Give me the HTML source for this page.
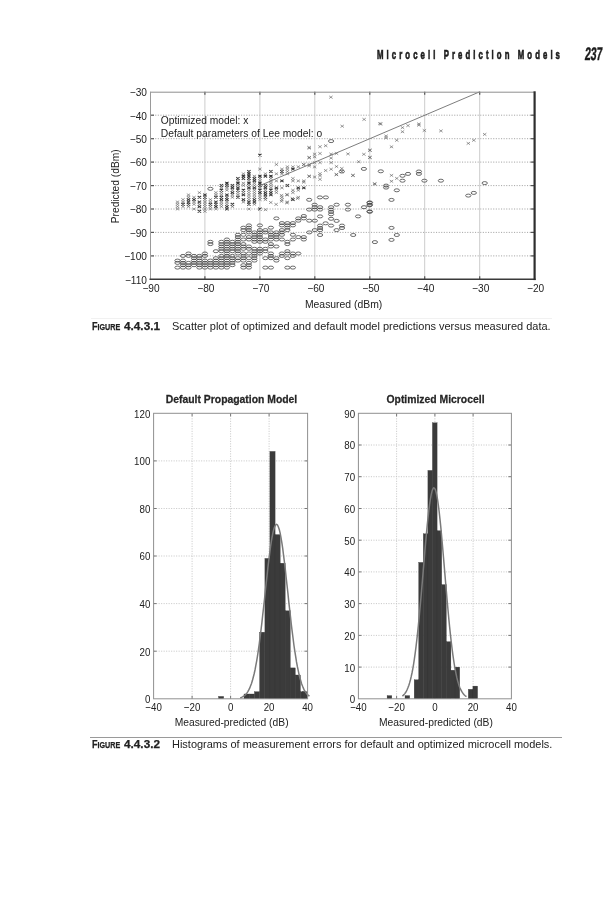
<!DOCTYPE html>
<html lang="en">
<head>
<meta charset="utf-8">
<title>Microcell Prediction Models</title>
<style>
html,body{margin:0;padding:0;background:#fff;}
body{width:613px;height:900px;position:relative;overflow:hidden;font-family:"Liberation Sans",sans-serif;color:#222;}
.hdr{position:absolute;left:377.4px;top:46.7px;font-weight:700;font-size:13.4px;line-height:16px;white-space:nowrap;letter-spacing:5.32px;transform-origin:0 0;transform:scaleX(0.58);color:#1c1c1c;-webkit-text-stroke:0.7px #1c1c1c;}
.pg{position:absolute;left:586.4px;top:43.4px;font-weight:700;font-size:18.1px;line-height:22px;white-space:nowrap;transform-origin:0 0;transform:scaleX(0.58) skewX(-9deg);color:#1c1c1c;letter-spacing:0;-webkit-text-stroke:0.45px #1c1c1c;}
.cap{position:absolute;left:0;width:613px;height:14px;font-size:11.6px;line-height:14px;color:#222;}
.cap b{-webkit-text-stroke:0.25px #222;}
.cap b,.cap span.t{position:absolute;top:0;white-space:nowrap;transform-origin:0 0;}
.cap b{left:91.5px;font-weight:700;transform:scaleX(0.78);}
.cap b.n{left:123.6px;transform:scaleX(1.015);}
.cap span.t{left:171.7px;transform:scaleX(0.946);}
.cap .sc{font-size:9.2px;}
.rule{position:absolute;height:1px;}
svg.plot text{font-family:"Liberation Sans",sans-serif;fill:#222;}
svg.plot .tk{font-size:10.4px;}
svg.plot .hk{font-size:11.2px;}
svg.plot .hl{font-size:10.8px;}
svg.plot .tt{font-size:11px;font-weight:700;fill:#262626;stroke:#262626;stroke-width:0.25px;}
</style>
</head>
<body>
<div class="hdr">Microcell Prediction Models</div>
<div class="pg">237</div>
<svg class="plot" width="613" height="240" viewBox="0 80 613 240" style="position:absolute;left:0;top:80px">
<g stroke="#9c9c9c" stroke-width="0.9" stroke-dasharray="1.1 1.5" fill="none">
<line x1="150.0" y1="115.2" x2="534.6" y2="115.2"/>
<line x1="150.0" y1="138.7" x2="534.6" y2="138.7"/>
<line x1="150.0" y1="162.1" x2="534.6" y2="162.1"/>
<line x1="150.0" y1="185.6" x2="534.6" y2="185.6"/>
<line x1="150.0" y1="209.0" x2="534.6" y2="209.0"/>
<line x1="150.0" y1="232.4" x2="534.6" y2="232.4"/>
<line x1="150.0" y1="255.9" x2="534.6" y2="255.9"/>
</g>
<g stroke="#c6c6c6" stroke-width="0.9" fill="none">
<line x1="204.9" y1="91.8" x2="204.9" y2="279.3"/>
<line x1="259.9" y1="91.8" x2="259.9" y2="279.3"/>
<line x1="314.8" y1="91.8" x2="314.8" y2="279.3"/>
<line x1="369.8" y1="91.8" x2="369.8" y2="279.3"/>
<line x1="424.7" y1="91.8" x2="424.7" y2="279.3"/>
<line x1="479.7" y1="91.8" x2="479.7" y2="279.3"/>
</g>
<g stroke="#555" stroke-width="1.2">
<line x1="150.0" y1="115.2" x2="154.0" y2="115.2"/>
<line x1="530.6" y1="115.2" x2="534.6" y2="115.2"/>
<line x1="150.0" y1="138.7" x2="154.0" y2="138.7"/>
<line x1="530.6" y1="138.7" x2="534.6" y2="138.7"/>
<line x1="150.0" y1="162.1" x2="154.0" y2="162.1"/>
<line x1="530.6" y1="162.1" x2="534.6" y2="162.1"/>
<line x1="150.0" y1="185.6" x2="154.0" y2="185.6"/>
<line x1="530.6" y1="185.6" x2="534.6" y2="185.6"/>
<line x1="150.0" y1="209.0" x2="154.0" y2="209.0"/>
<line x1="530.6" y1="209.0" x2="534.6" y2="209.0"/>
<line x1="150.0" y1="232.4" x2="154.0" y2="232.4"/>
<line x1="530.6" y1="232.4" x2="534.6" y2="232.4"/>
<line x1="150.0" y1="255.9" x2="154.0" y2="255.9"/>
<line x1="530.6" y1="255.9" x2="534.6" y2="255.9"/>
<line x1="204.9" y1="91.8" x2="204.9" y2="94.8"/>
<line x1="204.9" y1="276.3" x2="204.9" y2="279.3"/>
<line x1="259.9" y1="91.8" x2="259.9" y2="94.8"/>
<line x1="259.9" y1="276.3" x2="259.9" y2="279.3"/>
<line x1="314.8" y1="91.8" x2="314.8" y2="94.8"/>
<line x1="314.8" y1="276.3" x2="314.8" y2="279.3"/>
<line x1="369.8" y1="91.8" x2="369.8" y2="94.8"/>
<line x1="369.8" y1="276.3" x2="369.8" y2="279.3"/>
<line x1="424.7" y1="91.8" x2="424.7" y2="94.8"/>
<line x1="424.7" y1="276.3" x2="424.7" y2="279.3"/>
<line x1="479.7" y1="91.8" x2="479.7" y2="94.8"/>
<line x1="479.7" y1="276.3" x2="479.7" y2="279.3"/>
</g>
<path d="M175.8 200.7l3.4 2.6m0 -2.6l-3.4 2.6M175.8 203.0l3.4 2.6m0 -2.6l-3.4 2.6M175.8 205.3l3.4 2.6m0 -2.6l-3.4 2.6M175.8 207.7l3.4 2.6m0 -2.6l-3.4 2.6M181.3 198.3l3.4 2.6m0 -2.6l-3.4 2.6M181.3 200.7l3.4 2.6m0 -2.6l-3.4 2.6M181.3 205.3l3.4 2.6m0 -2.6l-3.4 2.6M186.8 193.6l3.4 2.6m0 -2.6l-3.4 2.6M186.8 196.0l3.4 2.6m0 -2.6l-3.4 2.6M186.8 205.3l3.4 2.6m0 -2.6l-3.4 2.6M192.3 196.0l3.4 2.6m0 -2.6l-3.4 2.6M192.3 200.7l3.4 2.6m0 -2.6l-3.4 2.6M192.3 203.0l3.4 2.6m0 -2.6l-3.4 2.6M192.3 207.7l3.4 2.6m0 -2.6l-3.4 2.6M197.7 191.3l3.4 2.6m0 -2.6l-3.4 2.6M197.7 203.0l3.4 2.6m0 -2.6l-3.4 2.6M203.2 198.3l3.4 2.6m0 -2.6l-3.4 2.6M203.2 200.7l3.4 2.6m0 -2.6l-3.4 2.6M203.2 203.0l3.4 2.6m0 -2.6l-3.4 2.6M203.2 205.3l3.4 2.6m0 -2.6l-3.4 2.6M203.2 207.7l3.4 2.6m0 -2.6l-3.4 2.6M203.2 210.0l3.4 2.6m0 -2.6l-3.4 2.6M208.7 198.3l3.4 2.6m0 -2.6l-3.4 2.6M208.7 200.7l3.4 2.6m0 -2.6l-3.4 2.6M208.7 205.3l3.4 2.6m0 -2.6l-3.4 2.6M208.7 207.7l3.4 2.6m0 -2.6l-3.4 2.6M214.2 191.3l3.4 2.6m0 -2.6l-3.4 2.6M214.2 193.6l3.4 2.6m0 -2.6l-3.4 2.6M214.2 207.7l3.4 2.6m0 -2.6l-3.4 2.6M219.7 186.6l3.4 2.6m0 -2.6l-3.4 2.6M219.7 191.3l3.4 2.6m0 -2.6l-3.4 2.6M219.7 193.6l3.4 2.6m0 -2.6l-3.4 2.6M219.7 200.7l3.4 2.6m0 -2.6l-3.4 2.6M219.7 203.0l3.4 2.6m0 -2.6l-3.4 2.6M219.7 205.3l3.4 2.6m0 -2.6l-3.4 2.6M225.2 186.6l3.4 2.6m0 -2.6l-3.4 2.6M225.2 188.9l3.4 2.6m0 -2.6l-3.4 2.6M225.2 200.7l3.4 2.6m0 -2.6l-3.4 2.6M225.2 203.0l3.4 2.6m0 -2.6l-3.4 2.6M230.7 188.9l3.4 2.6m0 -2.6l-3.4 2.6M230.7 193.6l3.4 2.6m0 -2.6l-3.4 2.6M230.7 196.0l3.4 2.6m0 -2.6l-3.4 2.6M230.7 205.3l3.4 2.6m0 -2.6l-3.4 2.6M236.2 179.6l3.4 2.6m0 -2.6l-3.4 2.6M236.2 184.2l3.4 2.6m0 -2.6l-3.4 2.6M236.2 191.3l3.4 2.6m0 -2.6l-3.4 2.6M236.2 193.6l3.4 2.6m0 -2.6l-3.4 2.6M241.7 172.5l3.4 2.6m0 -2.6l-3.4 2.6M241.7 181.9l3.4 2.6m0 -2.6l-3.4 2.6M241.7 184.2l3.4 2.6m0 -2.6l-3.4 2.6M241.7 191.3l3.4 2.6m0 -2.6l-3.4 2.6M241.7 200.7l3.4 2.6m0 -2.6l-3.4 2.6M247.2 179.6l3.4 2.6m0 -2.6l-3.4 2.6M247.2 184.2l3.4 2.6m0 -2.6l-3.4 2.6M247.2 188.9l3.4 2.6m0 -2.6l-3.4 2.6M247.2 191.3l3.4 2.6m0 -2.6l-3.4 2.6M247.2 193.6l3.4 2.6m0 -2.6l-3.4 2.6M247.2 196.0l3.4 2.6m0 -2.6l-3.4 2.6M247.2 198.3l3.4 2.6m0 -2.6l-3.4 2.6M247.2 207.7l3.4 2.6m0 -2.6l-3.4 2.6M252.7 174.9l3.4 2.6m0 -2.6l-3.4 2.6M252.7 181.9l3.4 2.6m0 -2.6l-3.4 2.6M252.7 184.2l3.4 2.6m0 -2.6l-3.4 2.6M252.7 188.9l3.4 2.6m0 -2.6l-3.4 2.6M252.7 191.3l3.4 2.6m0 -2.6l-3.4 2.6M252.7 193.6l3.4 2.6m0 -2.6l-3.4 2.6M252.7 196.0l3.4 2.6m0 -2.6l-3.4 2.6M252.7 203.0l3.4 2.6m0 -2.6l-3.4 2.6M258.2 167.8l3.4 2.6m0 -2.6l-3.4 2.6M258.2 177.2l3.4 2.6m0 -2.6l-3.4 2.6M258.2 179.6l3.4 2.6m0 -2.6l-3.4 2.6M258.2 186.6l3.4 2.6m0 -2.6l-3.4 2.6M258.2 193.6l3.4 2.6m0 -2.6l-3.4 2.6M258.2 196.0l3.4 2.6m0 -2.6l-3.4 2.6M258.2 198.3l3.4 2.6m0 -2.6l-3.4 2.6M263.7 172.5l3.4 2.6m0 -2.6l-3.4 2.6M263.7 188.9l3.4 2.6m0 -2.6l-3.4 2.6M263.7 198.3l3.4 2.6m0 -2.6l-3.4 2.6M269.2 177.2l3.4 2.6m0 -2.6l-3.4 2.6M269.2 179.6l3.4 2.6m0 -2.6l-3.4 2.6M269.2 181.9l3.4 2.6m0 -2.6l-3.4 2.6M269.2 184.2l3.4 2.6m0 -2.6l-3.4 2.6M269.2 186.6l3.4 2.6m0 -2.6l-3.4 2.6M274.7 163.2l3.4 2.6m0 -2.6l-3.4 2.6M274.7 172.5l3.4 2.6m0 -2.6l-3.4 2.6M274.7 179.6l3.4 2.6m0 -2.6l-3.4 2.6M274.7 188.9l3.4 2.6m0 -2.6l-3.4 2.6M274.7 191.3l3.4 2.6m0 -2.6l-3.4 2.6M280.2 167.8l3.4 2.6m0 -2.6l-3.4 2.6M280.2 172.5l3.4 2.6m0 -2.6l-3.4 2.6M280.2 186.6l3.4 2.6m0 -2.6l-3.4 2.6M280.2 196.0l3.4 2.6m0 -2.6l-3.4 2.6M280.2 198.3l3.4 2.6m0 -2.6l-3.4 2.6M285.7 165.5l3.4 2.6m0 -2.6l-3.4 2.6M285.7 167.8l3.4 2.6m0 -2.6l-3.4 2.6M285.7 170.2l3.4 2.6m0 -2.6l-3.4 2.6M285.7 172.5l3.4 2.6m0 -2.6l-3.4 2.6M285.7 193.6l3.4 2.6m0 -2.6l-3.4 2.6M285.7 200.7l3.4 2.6m0 -2.6l-3.4 2.6M291.2 165.5l3.4 2.6m0 -2.6l-3.4 2.6M291.2 177.2l3.4 2.6m0 -2.6l-3.4 2.6M291.2 179.6l3.4 2.6m0 -2.6l-3.4 2.6M291.2 188.9l3.4 2.6m0 -2.6l-3.4 2.6M291.2 191.3l3.4 2.6m0 -2.6l-3.4 2.6M296.6 165.5l3.4 2.6m0 -2.6l-3.4 2.6M296.6 179.6l3.4 2.6m0 -2.6l-3.4 2.6M296.6 188.9l3.4 2.6m0 -2.6l-3.4 2.6M296.6 196.0l3.4 2.6m0 -2.6l-3.4 2.6M302.1 163.2l3.4 2.6m0 -2.6l-3.4 2.6M302.1 179.6l3.4 2.6m0 -2.6l-3.4 2.6M307.6 146.8l3.4 2.6m0 -2.6l-3.4 2.6M307.6 156.1l3.4 2.6m0 -2.6l-3.4 2.6M307.6 163.2l3.4 2.6m0 -2.6l-3.4 2.6M307.6 174.9l3.4 2.6m0 -2.6l-3.4 2.6M307.4 146.1l3.4 2.6m0 -2.6l-3.4 2.6M318.3 145.4l3.4 2.6m0 -2.6l-3.4 2.6M324.0 144.4l3.4 2.6m0 -2.6l-3.4 2.6M312.9 152.8l3.4 2.6m0 -2.6l-3.4 2.6M312.9 155.5l3.4 2.6m0 -2.6l-3.4 2.6M318.3 152.2l3.4 2.6m0 -2.6l-3.4 2.6M307.4 156.5l3.4 2.6m0 -2.6l-3.4 2.6M329.4 152.8l3.4 2.6m0 -2.6l-3.4 2.6M334.8 152.2l3.4 2.6m0 -2.6l-3.4 2.6M329.4 156.8l3.4 2.6m0 -2.6l-3.4 2.6M329.4 161.3l3.4 2.6m0 -2.6l-3.4 2.6M346.3 152.6l3.4 2.6m0 -2.6l-3.4 2.6M362.2 153.0l3.4 2.6m0 -2.6l-3.4 2.6M368.1 148.9l3.4 2.6m0 -2.6l-3.4 2.6M368.1 156.1l3.4 2.6m0 -2.6l-3.4 2.6M357.0 160.4l3.4 2.6m0 -2.6l-3.4 2.6M302.0 163.3l3.4 2.6m0 -2.6l-3.4 2.6M307.4 164.6l3.4 2.6m0 -2.6l-3.4 2.6M312.9 161.3l3.4 2.6m0 -2.6l-3.4 2.6M312.9 165.6l3.4 2.6m0 -2.6l-3.4 2.6M318.3 161.3l3.4 2.6m0 -2.6l-3.4 2.6M334.8 165.2l3.4 2.6m0 -2.6l-3.4 2.6M329.4 167.9l3.4 2.6m0 -2.6l-3.4 2.6M324.0 169.2l3.4 2.6m0 -2.6l-3.4 2.6M340.1 167.2l3.4 2.6m0 -2.6l-3.4 2.6M340.1 170.2l3.4 2.6m0 -2.6l-3.4 2.6M334.8 173.3l3.4 2.6m0 -2.6l-3.4 2.6M318.3 172.4l3.4 2.6m0 -2.6l-3.4 2.6M318.3 174.4l3.4 2.6m0 -2.6l-3.4 2.6M318.3 178.0l3.4 2.6m0 -2.6l-3.4 2.6M307.4 175.0l3.4 2.6m0 -2.6l-3.4 2.6M312.9 175.7l3.4 2.6m0 -2.6l-3.4 2.6M351.2 174.1l3.4 2.6m0 -2.6l-3.4 2.6M302.0 180.9l3.4 2.6m0 -2.6l-3.4 2.6M379.1 122.6l3.4 2.6m0 -2.6l-3.4 2.6M384.4 134.7l3.4 2.6m0 -2.6l-3.4 2.6M384.4 136.7l3.4 2.6m0 -2.6l-3.4 2.6M389.8 145.5l3.4 2.6m0 -2.6l-3.4 2.6M395.1 139.0l3.4 2.6m0 -2.6l-3.4 2.6M400.8 126.3l3.4 2.6m0 -2.6l-3.4 2.6M400.8 130.4l3.4 2.6m0 -2.6l-3.4 2.6M406.3 124.3l3.4 2.6m0 -2.6l-3.4 2.6M417.2 122.6l3.4 2.6m0 -2.6l-3.4 2.6M417.2 123.9l3.4 2.6m0 -2.6l-3.4 2.6M422.7 129.2l3.4 2.6m0 -2.6l-3.4 2.6M439.2 129.6l3.4 2.6m0 -2.6l-3.4 2.6M466.6 142.1l3.4 2.6m0 -2.6l-3.4 2.6M472.1 139.0l3.4 2.6m0 -2.6l-3.4 2.6M483.0 133.1l3.4 2.6m0 -2.6l-3.4 2.6M368.3 149.0l3.4 2.6m0 -2.6l-3.4 2.6M368.3 156.2l3.4 2.6m0 -2.6l-3.4 2.6M389.8 174.1l3.4 2.6m0 -2.6l-3.4 2.6M395.1 177.1l3.4 2.6m0 -2.6l-3.4 2.6M389.8 180.0l3.4 2.6m0 -2.6l-3.4 2.6M373.2 182.6l3.4 2.6m0 -2.6l-3.4 2.6M329.2 95.9l3.4 2.6m0 -2.6l-3.4 2.6M362.4 118.1l3.4 2.6m0 -2.6l-3.4 2.6M340.5 124.9l3.4 2.6m0 -2.6l-3.4 2.6M378.1 122.4l3.4 2.6m0 -2.6l-3.4 2.6M372.8 182.6l3.4 2.6m0 -2.6l-3.4 2.6M351.3 174.1l3.4 2.6m0 -2.6l-3.4 2.6M334.6 173.2l3.4 2.6m0 -2.6l-3.4 2.6M290.6 197.2l3.4 2.6m0 -2.6l-3.4 2.6M295.9 197.2l3.4 2.6m0 -2.6l-3.4 2.6M279.8 194.1l3.4 2.6m0 -2.6l-3.4 2.6M285.1 193.3l3.4 2.6m0 -2.6l-3.4 2.6M285.1 201.6l3.4 2.6m0 -2.6l-3.4 2.6M274.4 203.1l3.4 2.6m0 -2.6l-3.4 2.6M269.1 201.2l3.4 2.6m0 -2.6l-3.4 2.6M279.8 200.0l3.4 2.6m0 -2.6l-3.4 2.6M263.8 208.4l3.4 2.6m0 -2.6l-3.4 2.6" stroke="#666" stroke-width="0.65" fill="none"/>
<path d="M181.3 203.0l3.4 2.6m0 -2.6l-3.4 2.6M186.8 198.3l3.4 2.6m0 -2.6l-3.4 2.6M186.8 200.7l3.4 2.6m0 -2.6l-3.4 2.6M186.8 203.0l3.4 2.6m0 -2.6l-3.4 2.6M192.3 198.3l3.4 2.6m0 -2.6l-3.4 2.6M197.7 196.0l3.4 2.6m0 -2.6l-3.4 2.6M197.7 200.7l3.4 2.6m0 -2.6l-3.4 2.6M197.7 205.3l3.4 2.6m0 -2.6l-3.4 2.6M197.7 210.0l3.4 2.6m0 -2.6l-3.4 2.6M203.2 193.6l3.4 2.6m0 -2.6l-3.4 2.6M203.2 196.0l3.4 2.6m0 -2.6l-3.4 2.6M208.7 203.0l3.4 2.6m0 -2.6l-3.4 2.6M214.2 196.0l3.4 2.6m0 -2.6l-3.4 2.6M214.2 200.7l3.4 2.6m0 -2.6l-3.4 2.6M214.2 203.0l3.4 2.6m0 -2.6l-3.4 2.6M214.2 205.3l3.4 2.6m0 -2.6l-3.4 2.6M219.7 184.2l3.4 2.6m0 -2.6l-3.4 2.6M219.7 188.9l3.4 2.6m0 -2.6l-3.4 2.6M219.7 196.0l3.4 2.6m0 -2.6l-3.4 2.6M219.7 198.3l3.4 2.6m0 -2.6l-3.4 2.6M225.2 181.9l3.4 2.6m0 -2.6l-3.4 2.6M225.2 184.2l3.4 2.6m0 -2.6l-3.4 2.6M225.2 193.6l3.4 2.6m0 -2.6l-3.4 2.6M225.2 196.0l3.4 2.6m0 -2.6l-3.4 2.6M225.2 198.3l3.4 2.6m0 -2.6l-3.4 2.6M225.2 205.3l3.4 2.6m0 -2.6l-3.4 2.6M225.2 207.7l3.4 2.6m0 -2.6l-3.4 2.6M230.7 184.2l3.4 2.6m0 -2.6l-3.4 2.6M230.7 186.6l3.4 2.6m0 -2.6l-3.4 2.6M230.7 191.3l3.4 2.6m0 -2.6l-3.4 2.6M230.7 203.0l3.4 2.6m0 -2.6l-3.4 2.6M236.2 177.2l3.4 2.6m0 -2.6l-3.4 2.6M236.2 181.9l3.4 2.6m0 -2.6l-3.4 2.6M236.2 186.6l3.4 2.6m0 -2.6l-3.4 2.6M236.2 188.9l3.4 2.6m0 -2.6l-3.4 2.6M236.2 196.0l3.4 2.6m0 -2.6l-3.4 2.6M241.7 174.9l3.4 2.6m0 -2.6l-3.4 2.6M241.7 177.2l3.4 2.6m0 -2.6l-3.4 2.6M241.7 188.9l3.4 2.6m0 -2.6l-3.4 2.6M241.7 193.6l3.4 2.6m0 -2.6l-3.4 2.6M241.7 198.3l3.4 2.6m0 -2.6l-3.4 2.6M247.2 170.2l3.4 2.6m0 -2.6l-3.4 2.6M247.2 172.5l3.4 2.6m0 -2.6l-3.4 2.6M247.2 174.9l3.4 2.6m0 -2.6l-3.4 2.6M247.2 177.2l3.4 2.6m0 -2.6l-3.4 2.6M247.2 181.9l3.4 2.6m0 -2.6l-3.4 2.6M247.2 186.6l3.4 2.6m0 -2.6l-3.4 2.6M247.2 200.7l3.4 2.6m0 -2.6l-3.4 2.6M247.2 203.0l3.4 2.6m0 -2.6l-3.4 2.6M252.7 177.2l3.4 2.6m0 -2.6l-3.4 2.6M252.7 179.6l3.4 2.6m0 -2.6l-3.4 2.6M252.7 186.6l3.4 2.6m0 -2.6l-3.4 2.6M252.7 198.3l3.4 2.6m0 -2.6l-3.4 2.6M252.7 200.7l3.4 2.6m0 -2.6l-3.4 2.6M258.2 153.8l3.4 2.6m0 -2.6l-3.4 2.6M258.2 174.9l3.4 2.6m0 -2.6l-3.4 2.6M258.2 181.9l3.4 2.6m0 -2.6l-3.4 2.6M258.2 184.2l3.4 2.6m0 -2.6l-3.4 2.6M258.2 188.9l3.4 2.6m0 -2.6l-3.4 2.6M258.2 191.3l3.4 2.6m0 -2.6l-3.4 2.6M258.2 207.7l3.4 2.6m0 -2.6l-3.4 2.6M263.7 174.9l3.4 2.6m0 -2.6l-3.4 2.6M263.7 184.2l3.4 2.6m0 -2.6l-3.4 2.6M263.7 186.6l3.4 2.6m0 -2.6l-3.4 2.6M263.7 191.3l3.4 2.6m0 -2.6l-3.4 2.6M263.7 193.6l3.4 2.6m0 -2.6l-3.4 2.6M263.7 196.0l3.4 2.6m0 -2.6l-3.4 2.6M269.2 170.2l3.4 2.6m0 -2.6l-3.4 2.6M269.2 174.9l3.4 2.6m0 -2.6l-3.4 2.6M269.2 188.9l3.4 2.6m0 -2.6l-3.4 2.6M269.2 191.3l3.4 2.6m0 -2.6l-3.4 2.6M269.2 193.6l3.4 2.6m0 -2.6l-3.4 2.6M274.7 186.6l3.4 2.6m0 -2.6l-3.4 2.6M280.2 170.2l3.4 2.6m0 -2.6l-3.4 2.6M280.2 179.6l3.4 2.6m0 -2.6l-3.4 2.6M285.7 184.2l3.4 2.6m0 -2.6l-3.4 2.6M291.2 167.8l3.4 2.6m0 -2.6l-3.4 2.6M291.2 198.3l3.4 2.6m0 -2.6l-3.4 2.6M296.6 186.6l3.4 2.6m0 -2.6l-3.4 2.6M302.1 186.6l3.4 2.6m0 -2.6l-3.4 2.6" stroke="#3a3a3a" stroke-width="1.05" fill="none"/>
<g stroke="#444" stroke-width="0.8" fill="none">
<ellipse cx="177.5" cy="267.6" rx="2.65" ry="1.5"/>
<ellipse cx="177.5" cy="262.9" rx="2.65" ry="1.5"/>
<ellipse cx="177.5" cy="260.6" rx="2.65" ry="1.5"/>
<ellipse cx="183.0" cy="267.6" rx="2.65" ry="1.5"/>
<ellipse cx="183.0" cy="265.2" rx="2.65" ry="1.5"/>
<ellipse cx="183.0" cy="262.9" rx="2.65" ry="1.5"/>
<ellipse cx="183.0" cy="260.6" rx="2.65" ry="1.5"/>
<ellipse cx="183.0" cy="255.9" rx="2.65" ry="1.5"/>
<ellipse cx="188.5" cy="267.6" rx="2.65" ry="1.5"/>
<ellipse cx="188.5" cy="265.2" rx="2.65" ry="1.5"/>
<ellipse cx="188.5" cy="262.9" rx="2.65" ry="1.5"/>
<ellipse cx="188.5" cy="255.9" rx="2.65" ry="1.5"/>
<ellipse cx="188.5" cy="253.5" rx="2.65" ry="1.5"/>
<ellipse cx="194.0" cy="265.2" rx="2.65" ry="1.5"/>
<ellipse cx="194.0" cy="262.9" rx="2.65" ry="1.5"/>
<ellipse cx="194.0" cy="260.6" rx="2.65" ry="1.5"/>
<ellipse cx="194.0" cy="258.2" rx="2.65" ry="1.5"/>
<ellipse cx="194.0" cy="255.9" rx="2.65" ry="1.5"/>
<ellipse cx="199.4" cy="267.6" rx="2.65" ry="1.5"/>
<ellipse cx="199.4" cy="265.2" rx="2.65" ry="1.5"/>
<ellipse cx="199.4" cy="262.9" rx="2.65" ry="1.5"/>
<ellipse cx="199.4" cy="260.6" rx="2.65" ry="1.5"/>
<ellipse cx="199.4" cy="258.2" rx="2.65" ry="1.5"/>
<ellipse cx="199.4" cy="255.9" rx="2.65" ry="1.5"/>
<ellipse cx="204.9" cy="267.6" rx="2.65" ry="1.5"/>
<ellipse cx="204.9" cy="265.2" rx="2.65" ry="1.5"/>
<ellipse cx="204.9" cy="262.9" rx="2.65" ry="1.5"/>
<ellipse cx="204.9" cy="260.6" rx="2.65" ry="1.5"/>
<ellipse cx="204.9" cy="255.9" rx="2.65" ry="1.5"/>
<ellipse cx="204.9" cy="253.5" rx="2.65" ry="1.5"/>
<ellipse cx="210.4" cy="267.6" rx="2.65" ry="1.5"/>
<ellipse cx="210.4" cy="265.2" rx="2.65" ry="1.5"/>
<ellipse cx="210.4" cy="262.9" rx="2.65" ry="1.5"/>
<ellipse cx="210.4" cy="260.6" rx="2.65" ry="1.5"/>
<ellipse cx="210.4" cy="244.1" rx="2.65" ry="1.5"/>
<ellipse cx="210.4" cy="241.8" rx="2.65" ry="1.5"/>
<ellipse cx="215.9" cy="267.6" rx="2.65" ry="1.5"/>
<ellipse cx="215.9" cy="265.2" rx="2.65" ry="1.5"/>
<ellipse cx="215.9" cy="262.9" rx="2.65" ry="1.5"/>
<ellipse cx="215.9" cy="260.6" rx="2.65" ry="1.5"/>
<ellipse cx="215.9" cy="258.2" rx="2.65" ry="1.5"/>
<ellipse cx="215.9" cy="251.2" rx="2.65" ry="1.5"/>
<ellipse cx="221.4" cy="267.6" rx="2.65" ry="1.5"/>
<ellipse cx="221.4" cy="265.2" rx="2.65" ry="1.5"/>
<ellipse cx="221.4" cy="262.9" rx="2.65" ry="1.5"/>
<ellipse cx="221.4" cy="260.6" rx="2.65" ry="1.5"/>
<ellipse cx="221.4" cy="258.2" rx="2.65" ry="1.5"/>
<ellipse cx="221.4" cy="255.9" rx="2.65" ry="1.5"/>
<ellipse cx="221.4" cy="251.2" rx="2.65" ry="1.5"/>
<ellipse cx="221.4" cy="248.8" rx="2.65" ry="1.5"/>
<ellipse cx="221.4" cy="246.5" rx="2.65" ry="1.5"/>
<ellipse cx="221.4" cy="244.1" rx="2.65" ry="1.5"/>
<ellipse cx="221.4" cy="241.8" rx="2.65" ry="1.5"/>
<ellipse cx="226.9" cy="267.6" rx="2.65" ry="1.5"/>
<ellipse cx="226.9" cy="265.2" rx="2.65" ry="1.5"/>
<ellipse cx="226.9" cy="262.9" rx="2.65" ry="1.5"/>
<ellipse cx="226.9" cy="260.6" rx="2.65" ry="1.5"/>
<ellipse cx="226.9" cy="258.2" rx="2.65" ry="1.5"/>
<ellipse cx="226.9" cy="255.9" rx="2.65" ry="1.5"/>
<ellipse cx="226.9" cy="253.5" rx="2.65" ry="1.5"/>
<ellipse cx="226.9" cy="251.2" rx="2.65" ry="1.5"/>
<ellipse cx="226.9" cy="248.8" rx="2.65" ry="1.5"/>
<ellipse cx="226.9" cy="246.5" rx="2.65" ry="1.5"/>
<ellipse cx="226.9" cy="244.1" rx="2.65" ry="1.5"/>
<ellipse cx="226.9" cy="241.8" rx="2.65" ry="1.5"/>
<ellipse cx="226.9" cy="239.5" rx="2.65" ry="1.5"/>
<ellipse cx="232.4" cy="265.2" rx="2.65" ry="1.5"/>
<ellipse cx="232.4" cy="262.9" rx="2.65" ry="1.5"/>
<ellipse cx="232.4" cy="260.6" rx="2.65" ry="1.5"/>
<ellipse cx="232.4" cy="258.2" rx="2.65" ry="1.5"/>
<ellipse cx="232.4" cy="255.9" rx="2.65" ry="1.5"/>
<ellipse cx="232.4" cy="251.2" rx="2.65" ry="1.5"/>
<ellipse cx="232.4" cy="248.8" rx="2.65" ry="1.5"/>
<ellipse cx="232.4" cy="246.5" rx="2.65" ry="1.5"/>
<ellipse cx="232.4" cy="244.1" rx="2.65" ry="1.5"/>
<ellipse cx="232.4" cy="241.8" rx="2.65" ry="1.5"/>
<ellipse cx="237.9" cy="234.8" rx="2.65" ry="1.5"/>
<ellipse cx="237.9" cy="237.1" rx="2.65" ry="1.5"/>
<ellipse cx="237.9" cy="239.5" rx="2.65" ry="1.5"/>
<ellipse cx="237.9" cy="241.8" rx="2.65" ry="1.5"/>
<ellipse cx="237.9" cy="244.1" rx="2.65" ry="1.5"/>
<ellipse cx="237.9" cy="246.5" rx="2.65" ry="1.5"/>
<ellipse cx="237.9" cy="248.8" rx="2.65" ry="1.5"/>
<ellipse cx="237.9" cy="251.2" rx="2.65" ry="1.5"/>
<ellipse cx="237.9" cy="253.5" rx="2.65" ry="1.5"/>
<ellipse cx="237.9" cy="258.2" rx="2.65" ry="1.5"/>
<ellipse cx="237.9" cy="260.6" rx="2.65" ry="1.5"/>
<ellipse cx="243.4" cy="227.7" rx="2.65" ry="1.5"/>
<ellipse cx="243.4" cy="230.1" rx="2.65" ry="1.5"/>
<ellipse cx="243.4" cy="234.8" rx="2.65" ry="1.5"/>
<ellipse cx="243.4" cy="239.5" rx="2.65" ry="1.5"/>
<ellipse cx="243.4" cy="244.1" rx="2.65" ry="1.5"/>
<ellipse cx="243.4" cy="246.5" rx="2.65" ry="1.5"/>
<ellipse cx="243.4" cy="248.8" rx="2.65" ry="1.5"/>
<ellipse cx="243.4" cy="253.5" rx="2.65" ry="1.5"/>
<ellipse cx="243.4" cy="255.9" rx="2.65" ry="1.5"/>
<ellipse cx="243.4" cy="258.2" rx="2.65" ry="1.5"/>
<ellipse cx="243.4" cy="260.6" rx="2.65" ry="1.5"/>
<ellipse cx="243.4" cy="265.2" rx="2.65" ry="1.5"/>
<ellipse cx="243.4" cy="267.6" rx="2.65" ry="1.5"/>
<ellipse cx="248.9" cy="225.4" rx="2.65" ry="1.5"/>
<ellipse cx="248.9" cy="227.7" rx="2.65" ry="1.5"/>
<ellipse cx="248.9" cy="230.1" rx="2.65" ry="1.5"/>
<ellipse cx="248.9" cy="232.4" rx="2.65" ry="1.5"/>
<ellipse cx="248.9" cy="237.1" rx="2.65" ry="1.5"/>
<ellipse cx="248.9" cy="239.5" rx="2.65" ry="1.5"/>
<ellipse cx="248.9" cy="246.5" rx="2.65" ry="1.5"/>
<ellipse cx="248.9" cy="248.8" rx="2.65" ry="1.5"/>
<ellipse cx="248.9" cy="253.5" rx="2.65" ry="1.5"/>
<ellipse cx="248.9" cy="258.2" rx="2.65" ry="1.5"/>
<ellipse cx="248.9" cy="262.9" rx="2.65" ry="1.5"/>
<ellipse cx="248.9" cy="265.2" rx="2.65" ry="1.5"/>
<ellipse cx="248.9" cy="267.6" rx="2.65" ry="1.5"/>
<ellipse cx="254.4" cy="232.4" rx="2.65" ry="1.5"/>
<ellipse cx="254.4" cy="234.8" rx="2.65" ry="1.5"/>
<ellipse cx="254.4" cy="237.1" rx="2.65" ry="1.5"/>
<ellipse cx="254.4" cy="239.5" rx="2.65" ry="1.5"/>
<ellipse cx="254.4" cy="241.8" rx="2.65" ry="1.5"/>
<ellipse cx="254.4" cy="248.8" rx="2.65" ry="1.5"/>
<ellipse cx="254.4" cy="251.2" rx="2.65" ry="1.5"/>
<ellipse cx="254.4" cy="253.5" rx="2.65" ry="1.5"/>
<ellipse cx="254.4" cy="255.9" rx="2.65" ry="1.5"/>
<ellipse cx="254.4" cy="258.2" rx="2.65" ry="1.5"/>
<ellipse cx="254.4" cy="260.6" rx="2.65" ry="1.5"/>
<ellipse cx="259.9" cy="225.4" rx="2.65" ry="1.5"/>
<ellipse cx="259.9" cy="230.1" rx="2.65" ry="1.5"/>
<ellipse cx="259.9" cy="232.4" rx="2.65" ry="1.5"/>
<ellipse cx="259.9" cy="234.8" rx="2.65" ry="1.5"/>
<ellipse cx="259.9" cy="237.1" rx="2.65" ry="1.5"/>
<ellipse cx="259.9" cy="239.5" rx="2.65" ry="1.5"/>
<ellipse cx="259.9" cy="241.8" rx="2.65" ry="1.5"/>
<ellipse cx="259.9" cy="248.8" rx="2.65" ry="1.5"/>
<ellipse cx="259.9" cy="251.2" rx="2.65" ry="1.5"/>
<ellipse cx="259.9" cy="253.5" rx="2.65" ry="1.5"/>
<ellipse cx="265.4" cy="230.1" rx="2.65" ry="1.5"/>
<ellipse cx="265.4" cy="232.4" rx="2.65" ry="1.5"/>
<ellipse cx="265.4" cy="239.5" rx="2.65" ry="1.5"/>
<ellipse cx="265.4" cy="241.8" rx="2.65" ry="1.5"/>
<ellipse cx="265.4" cy="248.8" rx="2.65" ry="1.5"/>
<ellipse cx="265.4" cy="251.2" rx="2.65" ry="1.5"/>
<ellipse cx="265.4" cy="258.2" rx="2.65" ry="1.5"/>
<ellipse cx="265.4" cy="267.6" rx="2.65" ry="1.5"/>
<ellipse cx="270.9" cy="227.7" rx="2.65" ry="1.5"/>
<ellipse cx="270.9" cy="232.4" rx="2.65" ry="1.5"/>
<ellipse cx="270.9" cy="234.8" rx="2.65" ry="1.5"/>
<ellipse cx="270.9" cy="237.1" rx="2.65" ry="1.5"/>
<ellipse cx="270.9" cy="239.5" rx="2.65" ry="1.5"/>
<ellipse cx="270.9" cy="244.1" rx="2.65" ry="1.5"/>
<ellipse cx="270.9" cy="246.5" rx="2.65" ry="1.5"/>
<ellipse cx="270.9" cy="253.5" rx="2.65" ry="1.5"/>
<ellipse cx="270.9" cy="255.9" rx="2.65" ry="1.5"/>
<ellipse cx="270.9" cy="258.2" rx="2.65" ry="1.5"/>
<ellipse cx="270.9" cy="267.6" rx="2.65" ry="1.5"/>
<ellipse cx="276.4" cy="218.4" rx="2.65" ry="1.5"/>
<ellipse cx="276.4" cy="232.4" rx="2.65" ry="1.5"/>
<ellipse cx="276.4" cy="234.8" rx="2.65" ry="1.5"/>
<ellipse cx="276.4" cy="237.1" rx="2.65" ry="1.5"/>
<ellipse cx="276.4" cy="239.5" rx="2.65" ry="1.5"/>
<ellipse cx="276.4" cy="246.5" rx="2.65" ry="1.5"/>
<ellipse cx="276.4" cy="258.2" rx="2.65" ry="1.5"/>
<ellipse cx="276.4" cy="260.6" rx="2.65" ry="1.5"/>
<ellipse cx="281.9" cy="223.1" rx="2.65" ry="1.5"/>
<ellipse cx="281.9" cy="225.4" rx="2.65" ry="1.5"/>
<ellipse cx="281.9" cy="230.1" rx="2.65" ry="1.5"/>
<ellipse cx="281.9" cy="232.4" rx="2.65" ry="1.5"/>
<ellipse cx="281.9" cy="234.8" rx="2.65" ry="1.5"/>
<ellipse cx="281.9" cy="239.5" rx="2.65" ry="1.5"/>
<ellipse cx="281.9" cy="253.5" rx="2.65" ry="1.5"/>
<ellipse cx="281.9" cy="255.9" rx="2.65" ry="1.5"/>
<ellipse cx="287.4" cy="223.1" rx="2.65" ry="1.5"/>
<ellipse cx="287.4" cy="225.4" rx="2.65" ry="1.5"/>
<ellipse cx="287.4" cy="227.7" rx="2.65" ry="1.5"/>
<ellipse cx="287.4" cy="230.1" rx="2.65" ry="1.5"/>
<ellipse cx="287.4" cy="241.8" rx="2.65" ry="1.5"/>
<ellipse cx="287.4" cy="244.1" rx="2.65" ry="1.5"/>
<ellipse cx="287.4" cy="251.2" rx="2.65" ry="1.5"/>
<ellipse cx="287.4" cy="253.5" rx="2.65" ry="1.5"/>
<ellipse cx="287.4" cy="258.2" rx="2.65" ry="1.5"/>
<ellipse cx="287.4" cy="267.6" rx="2.65" ry="1.5"/>
<ellipse cx="292.9" cy="223.1" rx="2.65" ry="1.5"/>
<ellipse cx="292.9" cy="225.4" rx="2.65" ry="1.5"/>
<ellipse cx="292.9" cy="234.8" rx="2.65" ry="1.5"/>
<ellipse cx="292.9" cy="239.5" rx="2.65" ry="1.5"/>
<ellipse cx="292.9" cy="253.5" rx="2.65" ry="1.5"/>
<ellipse cx="292.9" cy="255.9" rx="2.65" ry="1.5"/>
<ellipse cx="292.9" cy="267.6" rx="2.65" ry="1.5"/>
<ellipse cx="298.3" cy="218.4" rx="2.65" ry="1.5"/>
<ellipse cx="298.3" cy="220.7" rx="2.65" ry="1.5"/>
<ellipse cx="298.3" cy="237.1" rx="2.65" ry="1.5"/>
<ellipse cx="298.3" cy="253.5" rx="2.65" ry="1.5"/>
<ellipse cx="303.8" cy="216.0" rx="2.65" ry="1.5"/>
<ellipse cx="303.8" cy="218.4" rx="2.65" ry="1.5"/>
<ellipse cx="303.8" cy="237.1" rx="2.65" ry="1.5"/>
<ellipse cx="303.8" cy="239.5" rx="2.65" ry="1.5"/>
<ellipse cx="309.3" cy="220.7" rx="2.65" ry="1.5"/>
<ellipse cx="309.3" cy="232.4" rx="2.65" ry="1.5"/>
<ellipse cx="314.8" cy="220.7" rx="2.65" ry="1.5"/>
<ellipse cx="314.8" cy="230.1" rx="2.65" ry="1.5"/>
<ellipse cx="309.2" cy="199.8" rx="2.65" ry="1.5"/>
<ellipse cx="319.9" cy="197.4" rx="2.65" ry="1.5"/>
<ellipse cx="325.8" cy="197.4" rx="2.65" ry="1.5"/>
<ellipse cx="314.6" cy="204.7" rx="2.65" ry="1.5"/>
<ellipse cx="314.6" cy="207.2" rx="2.65" ry="1.5"/>
<ellipse cx="314.6" cy="209.6" rx="2.65" ry="1.5"/>
<ellipse cx="309.2" cy="209.6" rx="2.65" ry="1.5"/>
<ellipse cx="320.1" cy="207.2" rx="2.65" ry="1.5"/>
<ellipse cx="320.1" cy="209.6" rx="2.65" ry="1.5"/>
<ellipse cx="331.1" cy="207.2" rx="2.65" ry="1.5"/>
<ellipse cx="331.1" cy="209.6" rx="2.65" ry="1.5"/>
<ellipse cx="331.1" cy="211.9" rx="2.65" ry="1.5"/>
<ellipse cx="331.1" cy="214.3" rx="2.65" ry="1.5"/>
<ellipse cx="336.6" cy="204.7" rx="2.65" ry="1.5"/>
<ellipse cx="347.9" cy="204.7" rx="2.65" ry="1.5"/>
<ellipse cx="347.9" cy="209.6" rx="2.65" ry="1.5"/>
<ellipse cx="364.0" cy="207.2" rx="2.65" ry="1.5"/>
<ellipse cx="369.4" cy="202.7" rx="2.65" ry="1.5"/>
<ellipse cx="369.4" cy="205.3" rx="2.65" ry="1.5"/>
<ellipse cx="369.4" cy="211.5" rx="2.65" ry="1.5"/>
<ellipse cx="358.1" cy="216.4" rx="2.65" ry="1.5"/>
<ellipse cx="320.1" cy="216.4" rx="2.65" ry="1.5"/>
<ellipse cx="331.1" cy="218.8" rx="2.65" ry="1.5"/>
<ellipse cx="336.6" cy="220.9" rx="2.65" ry="1.5"/>
<ellipse cx="325.6" cy="223.3" rx="2.65" ry="1.5"/>
<ellipse cx="320.1" cy="225.6" rx="2.65" ry="1.5"/>
<ellipse cx="320.1" cy="228.0" rx="2.65" ry="1.5"/>
<ellipse cx="331.1" cy="225.6" rx="2.65" ry="1.5"/>
<ellipse cx="342.0" cy="225.6" rx="2.65" ry="1.5"/>
<ellipse cx="342.0" cy="228.0" rx="2.65" ry="1.5"/>
<ellipse cx="320.1" cy="230.1" rx="2.65" ry="1.5"/>
<ellipse cx="336.6" cy="230.1" rx="2.65" ry="1.5"/>
<ellipse cx="320.1" cy="235.0" rx="2.65" ry="1.5"/>
<ellipse cx="353.2" cy="235.0" rx="2.65" ry="1.5"/>
<ellipse cx="374.9" cy="242.1" rx="2.65" ry="1.5"/>
<ellipse cx="380.8" cy="171.3" rx="2.65" ry="1.5"/>
<ellipse cx="386.1" cy="185.6" rx="2.65" ry="1.5"/>
<ellipse cx="386.1" cy="187.6" rx="2.65" ry="1.5"/>
<ellipse cx="391.5" cy="199.9" rx="2.65" ry="1.5"/>
<ellipse cx="396.8" cy="190.3" rx="2.65" ry="1.5"/>
<ellipse cx="402.5" cy="175.8" rx="2.65" ry="1.5"/>
<ellipse cx="402.5" cy="180.7" rx="2.65" ry="1.5"/>
<ellipse cx="408.0" cy="173.9" rx="2.65" ry="1.5"/>
<ellipse cx="418.9" cy="171.5" rx="2.65" ry="1.5"/>
<ellipse cx="418.9" cy="173.9" rx="2.65" ry="1.5"/>
<ellipse cx="424.4" cy="180.7" rx="2.65" ry="1.5"/>
<ellipse cx="440.9" cy="180.7" rx="2.65" ry="1.5"/>
<ellipse cx="468.3" cy="195.6" rx="2.65" ry="1.5"/>
<ellipse cx="473.8" cy="192.9" rx="2.65" ry="1.5"/>
<ellipse cx="484.7" cy="183.1" rx="2.65" ry="1.5"/>
<ellipse cx="370.0" cy="202.5" rx="2.65" ry="1.5"/>
<ellipse cx="370.0" cy="204.8" rx="2.65" ry="1.5"/>
<ellipse cx="370.0" cy="211.7" rx="2.65" ry="1.5"/>
<ellipse cx="391.5" cy="227.9" rx="2.65" ry="1.5"/>
<ellipse cx="396.8" cy="235.0" rx="2.65" ry="1.5"/>
<ellipse cx="391.5" cy="239.9" rx="2.65" ry="1.5"/>
<ellipse cx="331.1" cy="141.1" rx="2.65" ry="1.5"/>
<ellipse cx="363.9" cy="168.9" rx="2.65" ry="1.5"/>
<ellipse cx="341.8" cy="171.5" rx="2.65" ry="1.5"/>
<ellipse cx="210.4" cy="188.8" rx="2.65" ry="1.5"/>
</g>
<line x1="259.9" y1="185.6" x2="479.7" y2="91.8" stroke="#6e6e6e" stroke-width="0.9"/>
<line x1="150.0" y1="92.2" x2="534.6" y2="92.2" stroke="#8f8f8f" stroke-width="1"/>
<line x1="150.5" y1="91.8" x2="150.5" y2="279.3" stroke="#9a9a9a" stroke-width="1"/>
<line x1="149.5" y1="279.3" x2="535.6" y2="279.3" stroke="#3a3a3a" stroke-width="1.6"/>
<line x1="534.6" y1="91.3" x2="534.6" y2="280.1" stroke="#2e2e2e" stroke-width="2.2"/>
<g class="tk" text-anchor="end">
<text class="tk" text-anchor="end" transform="translate(147.0 96.0) scale(0.975 1)">−30</text>
<text class="tk" text-anchor="end" transform="translate(147.0 119.5) scale(0.975 1)">−40</text>
<text class="tk" text-anchor="end" transform="translate(147.0 142.9) scale(0.975 1)">−50</text>
<text class="tk" text-anchor="end" transform="translate(147.0 166.4) scale(0.975 1)">−60</text>
<text class="tk" text-anchor="end" transform="translate(147.0 189.8) scale(0.975 1)">−70</text>
<text class="tk" text-anchor="end" transform="translate(147.0 213.2) scale(0.975 1)">−80</text>
<text class="tk" text-anchor="end" transform="translate(147.0 236.7) scale(0.975 1)">−90</text>
<text class="tk" text-anchor="end" transform="translate(147.0 260.1) scale(0.975 1)">−100</text>
<text class="tk" text-anchor="end" transform="translate(147.0 283.6) scale(0.975 1)">−110</text>
</g>
<g class="tk" text-anchor="middle">
<text class="tk" text-anchor="middle" transform="translate(151.0 291.7) scale(0.975 1)">−90</text>
<text class="tk" text-anchor="middle" transform="translate(205.9 291.7) scale(0.975 1)">−80</text>
<text class="tk" text-anchor="middle" transform="translate(260.9 291.7) scale(0.975 1)">−70</text>
<text class="tk" text-anchor="middle" transform="translate(315.8 291.7) scale(0.975 1)">−60</text>
<text class="tk" text-anchor="middle" transform="translate(370.8 291.7) scale(0.975 1)">−50</text>
<text class="tk" text-anchor="middle" transform="translate(425.7 291.7) scale(0.975 1)">−40</text>
<text class="tk" text-anchor="middle" transform="translate(480.7 291.7) scale(0.975 1)">−30</text>
<text class="tk" text-anchor="middle" transform="translate(535.6 291.7) scale(0.975 1)">−20</text>
</g>
<text class="tk" text-anchor="middle" transform="translate(343.6 307.5) scale(1.000 1)">Measured (dBm)</text>
<text class="tk" text-anchor="middle" transform="translate(118.8 186.3) rotate(-90) scale(0.985 1)">Predicted (dBm)</text>
<text class="tk" text-anchor="start" transform="translate(160.8 124.0) scale(0.985 1)">Optimized model: x</text>
<text class="tk" text-anchor="start" transform="translate(160.8 136.9) scale(0.992 1)">Default parameters of Lee model: o</text>
</svg>
<div class="rule" style="left:91px;top:318.4px;width:461px;background:#f1f1f1;"></div>
<div class="cap" id="cap1" style="top:319.2px;"><b>F<span class="sc">IGURE</span></b> <b class="n">4.4.3.1</b> <span class="t">Scatter plot of optimized and default model predictions versus measured data.</span></div>
<svg class="plot" width="613" height="360" viewBox="0 380 613 360" style="position:absolute;left:0;top:380px">
<g>
<g stroke="#c4c4c4" stroke-width="0.9" stroke-dasharray="1.1 1.4" fill="none">
<line x1="153.6" y1="651.2" x2="307.6" y2="651.2"/>
<line x1="153.6" y1="603.6" x2="307.6" y2="603.6"/>
<line x1="153.6" y1="556.0" x2="307.6" y2="556.0"/>
<line x1="153.6" y1="508.5" x2="307.6" y2="508.5"/>
<line x1="153.6" y1="460.9" x2="307.6" y2="460.9"/>
<line x1="192.1" y1="413.3" x2="192.1" y2="698.8"/>
<line x1="230.6" y1="413.3" x2="230.6" y2="698.8"/>
<line x1="269.1" y1="413.3" x2="269.1" y2="698.8"/>
</g>
<g stroke="#777" stroke-width="1">
<line x1="153.6" y1="651.2" x2="156.6" y2="651.2"/>
<line x1="304.6" y1="651.2" x2="307.6" y2="651.2"/>
<line x1="153.6" y1="603.6" x2="156.6" y2="603.6"/>
<line x1="304.6" y1="603.6" x2="307.6" y2="603.6"/>
<line x1="153.6" y1="556.0" x2="156.6" y2="556.0"/>
<line x1="304.6" y1="556.0" x2="307.6" y2="556.0"/>
<line x1="153.6" y1="508.5" x2="156.6" y2="508.5"/>
<line x1="304.6" y1="508.5" x2="307.6" y2="508.5"/>
<line x1="153.6" y1="460.9" x2="156.6" y2="460.9"/>
<line x1="304.6" y1="460.9" x2="307.6" y2="460.9"/>
<line x1="192.1" y1="413.3" x2="192.1" y2="416.3"/>
<line x1="192.1" y1="695.8" x2="192.1" y2="698.8"/>
<line x1="230.6" y1="413.3" x2="230.6" y2="416.3"/>
<line x1="230.6" y1="695.8" x2="230.6" y2="698.8"/>
<line x1="269.1" y1="413.3" x2="269.1" y2="416.3"/>
<line x1="269.1" y1="695.8" x2="269.1" y2="698.8"/>
</g>
<g fill="#3b3b3b" stroke="#333" stroke-width="0.3">
<rect x="218.5" y="696.4" width="5.2" height="2.4"/>
<rect x="244.0" y="694.0" width="5.2" height="4.8"/>
<rect x="249.2" y="694.0" width="5.2" height="4.8"/>
<rect x="254.4" y="691.7" width="5.2" height="7.1"/>
<rect x="259.6" y="632.2" width="5.2" height="66.6"/>
<rect x="264.9" y="558.4" width="5.2" height="140.4"/>
<rect x="269.9" y="451.4" width="5.2" height="247.4"/>
<rect x="275.0" y="534.6" width="5.2" height="164.2"/>
<rect x="280.0" y="563.2" width="5.2" height="135.6"/>
<rect x="285.1" y="610.8" width="5.2" height="88.0"/>
<rect x="290.1" y="667.9" width="5.2" height="30.9"/>
<rect x="295.2" y="675.0" width="5.2" height="23.8"/>
<rect x="300.3" y="691.7" width="5.2" height="7.1"/>
<rect x="302.4" y="691.7" width="5.2" height="7.1"/>
</g>
<polyline points="240.2,697.7 241.1,697.5 242.0,697.1 242.8,696.7 243.7,696.1 244.6,695.5 245.4,694.7 246.3,693.7 247.2,692.6 248.0,691.3 248.9,689.7 249.8,687.9 250.6,685.8 251.5,683.4 252.4,680.6 253.2,677.5 254.1,674.0 255.0,670.0 255.8,665.6 256.7,660.8 257.6,655.5 258.4,649.8 259.3,643.6 260.1,637.0 261.0,630.0 261.9,622.7 262.7,615.1 263.6,607.3 264.5,599.3 265.3,591.2 266.2,583.2 267.1,575.3 267.9,567.6 268.8,560.2 269.7,553.3 270.5,546.9 271.4,541.1 272.3,536.1 273.1,531.9 274.0,528.6 274.9,526.2 275.7,524.8 276.6,524.4 277.5,525.0 278.3,526.7 279.2,529.2 280.1,532.8 280.9,537.2 281.8,542.4 282.7,548.3 283.5,554.8 284.4,561.8 285.3,569.3 286.1,577.0 287.0,585.0 287.9,593.0 288.7,601.1 289.6,609.0 290.5,616.8 291.3,624.4 292.2,631.6 293.1,638.5 293.9,645.0 294.8,651.1 295.7,656.7 296.5,661.9 297.4,666.7 298.3,670.9 299.1,674.8 300.0,678.2 300.9,681.3 301.7,684.0 302.6,686.3 303.5,688.4 304.3,690.1 305.2,691.6 306.1,692.9 306.9,694.0 307.8,694.9 308.7,695.6 309.5,696.2" fill="none" stroke="#7a7a7a" stroke-width="1.5"/>
<rect x="153.6" y="413.3" width="154.0" height="285.5" fill="none" stroke="#909090" stroke-width="1"/>
<g class="tk" text-anchor="end">
<text class="hk" text-anchor="end" transform="translate(150.3 703.2) scale(0.870 1)">0</text>
<text class="hk" text-anchor="end" transform="translate(150.3 655.6) scale(0.870 1)">20</text>
<text class="hk" text-anchor="end" transform="translate(150.3 608.0) scale(0.870 1)">40</text>
<text class="hk" text-anchor="end" transform="translate(150.3 560.4) scale(0.870 1)">60</text>
<text class="hk" text-anchor="end" transform="translate(150.3 512.9) scale(0.870 1)">80</text>
<text class="hk" text-anchor="end" transform="translate(150.3 465.3) scale(0.870 1)">100</text>
<text class="hk" text-anchor="end" transform="translate(150.3 417.7) scale(0.870 1)">120</text>
</g>
<g class="tk" text-anchor="middle">
<text class="hk" text-anchor="middle" transform="translate(153.6 711.4) scale(0.870 1)">−40</text>
<text class="hk" text-anchor="middle" transform="translate(192.1 711.4) scale(0.870 1)">−20</text>
<text class="hk" text-anchor="middle" transform="translate(230.6 711.4) scale(0.870 1)">0</text>
<text class="hk" text-anchor="middle" transform="translate(269.1 711.4) scale(0.870 1)">20</text>
<text class="hk" text-anchor="middle" transform="translate(307.6 711.4) scale(0.870 1)">40</text>
</g>
<text class="hl" text-anchor="middle" transform="translate(231.6 725.6) scale(0.955 1)">Measured-predicted (dB)</text>
<text class="tt" text-anchor="middle" transform="translate(231.5 403.0) scale(0.945 1)">Default Propagation Model</text>
</g>
<g>
<g stroke="#c4c4c4" stroke-width="0.9" stroke-dasharray="1.1 1.4" fill="none">
<line x1="358.4" y1="667.1" x2="511.4" y2="667.1"/>
<line x1="358.4" y1="635.4" x2="511.4" y2="635.4"/>
<line x1="358.4" y1="603.6" x2="511.4" y2="603.6"/>
<line x1="358.4" y1="571.9" x2="511.4" y2="571.9"/>
<line x1="358.4" y1="540.2" x2="511.4" y2="540.2"/>
<line x1="358.4" y1="508.5" x2="511.4" y2="508.5"/>
<line x1="358.4" y1="476.7" x2="511.4" y2="476.7"/>
<line x1="358.4" y1="445.0" x2="511.4" y2="445.0"/>
<line x1="396.6" y1="413.3" x2="396.6" y2="698.8"/>
<line x1="434.9" y1="413.3" x2="434.9" y2="698.8"/>
<line x1="473.1" y1="413.3" x2="473.1" y2="698.8"/>
</g>
<g stroke="#777" stroke-width="1">
<line x1="358.4" y1="667.1" x2="361.4" y2="667.1"/>
<line x1="508.4" y1="667.1" x2="511.4" y2="667.1"/>
<line x1="358.4" y1="635.4" x2="361.4" y2="635.4"/>
<line x1="508.4" y1="635.4" x2="511.4" y2="635.4"/>
<line x1="358.4" y1="603.6" x2="361.4" y2="603.6"/>
<line x1="508.4" y1="603.6" x2="511.4" y2="603.6"/>
<line x1="358.4" y1="571.9" x2="361.4" y2="571.9"/>
<line x1="508.4" y1="571.9" x2="511.4" y2="571.9"/>
<line x1="358.4" y1="540.2" x2="361.4" y2="540.2"/>
<line x1="508.4" y1="540.2" x2="511.4" y2="540.2"/>
<line x1="358.4" y1="508.5" x2="361.4" y2="508.5"/>
<line x1="508.4" y1="508.5" x2="511.4" y2="508.5"/>
<line x1="358.4" y1="476.7" x2="361.4" y2="476.7"/>
<line x1="508.4" y1="476.7" x2="511.4" y2="476.7"/>
<line x1="358.4" y1="445.0" x2="361.4" y2="445.0"/>
<line x1="508.4" y1="445.0" x2="511.4" y2="445.0"/>
<line x1="396.6" y1="413.3" x2="396.6" y2="416.3"/>
<line x1="396.6" y1="695.8" x2="396.6" y2="698.8"/>
<line x1="434.9" y1="413.3" x2="434.9" y2="416.3"/>
<line x1="434.9" y1="695.8" x2="434.9" y2="698.8"/>
<line x1="473.1" y1="413.3" x2="473.1" y2="416.3"/>
<line x1="473.1" y1="695.8" x2="473.1" y2="698.8"/>
</g>
<g fill="#3b3b3b" stroke="#333" stroke-width="0.3">
<rect x="387.1" y="695.6" width="4.7" height="3.2"/>
<rect x="405.0" y="695.6" width="4.7" height="3.2"/>
<rect x="414.2" y="679.8" width="4.7" height="19.0"/>
<rect x="418.7" y="562.4" width="4.7" height="136.4"/>
<rect x="423.3" y="533.8" width="4.7" height="165.0"/>
<rect x="427.9" y="470.4" width="4.7" height="228.4"/>
<rect x="432.4" y="422.8" width="4.7" height="276.0"/>
<rect x="437.0" y="530.7" width="4.7" height="168.1"/>
<rect x="441.6" y="584.6" width="4.7" height="114.2"/>
<rect x="446.2" y="641.7" width="4.7" height="57.1"/>
<rect x="450.6" y="670.2" width="4.7" height="28.5"/>
<rect x="455.0" y="667.1" width="4.7" height="31.7"/>
<rect x="468.3" y="689.3" width="4.7" height="9.5"/>
<rect x="472.9" y="686.1" width="4.7" height="12.7"/>
</g>
<polyline points="402.4,696.1 403.2,695.4 404.0,694.6 404.8,693.6 405.6,692.5 406.4,691.1 407.2,689.5 408.0,687.6 408.8,685.4 409.6,682.9 410.4,680.0 411.2,676.7 412.0,673.0 412.8,668.8 413.6,664.1 414.4,658.9 415.2,653.2 416.0,646.9 416.8,640.2 417.6,632.9 418.4,625.2 419.2,617.0 420.0,608.3 420.8,599.4 421.6,590.1 422.4,580.7 423.2,571.1 424.0,561.6 424.8,552.1 425.6,542.9 426.4,534.0 427.2,525.6 428.0,517.8 428.8,510.7 429.6,504.4 430.4,499.0 431.2,494.6 432.0,491.2 432.8,489.0 433.6,487.9 434.4,488.1 435.2,489.3 436.0,491.8 436.8,495.3 437.6,499.9 438.4,505.5 439.2,512.0 440.0,519.3 440.8,527.2 441.6,535.7 442.4,544.7 443.2,554.0 444.0,563.4 444.8,573.0 445.6,582.5 446.4,591.9 447.2,601.1 448.0,610.0 448.8,618.6 449.6,626.7 450.4,634.4 451.2,641.5 452.0,648.2 452.8,654.3 453.6,659.9 454.4,665.0 455.2,669.6 456.0,673.7 456.8,677.4 457.6,680.6 458.4,683.4 459.2,685.9 460.0,688.0 460.9,689.8 461.7,691.4 462.5,692.7 463.3,693.8 464.1,694.7 464.9,695.5 465.7,696.2 466.5,696.7" fill="none" stroke="#7a7a7a" stroke-width="1.5"/>
<rect x="358.4" y="413.3" width="153.0" height="285.5" fill="none" stroke="#909090" stroke-width="1"/>
<g class="tk" text-anchor="end">
<text class="hk" text-anchor="end" transform="translate(355.1 703.2) scale(0.870 1)">0</text>
<text class="hk" text-anchor="end" transform="translate(355.1 671.5) scale(0.870 1)">10</text>
<text class="hk" text-anchor="end" transform="translate(355.1 639.8) scale(0.870 1)">20</text>
<text class="hk" text-anchor="end" transform="translate(355.1 608.0) scale(0.870 1)">30</text>
<text class="hk" text-anchor="end" transform="translate(355.1 576.3) scale(0.870 1)">40</text>
<text class="hk" text-anchor="end" transform="translate(355.1 544.6) scale(0.870 1)">50</text>
<text class="hk" text-anchor="end" transform="translate(355.1 512.9) scale(0.870 1)">60</text>
<text class="hk" text-anchor="end" transform="translate(355.1 481.1) scale(0.870 1)">70</text>
<text class="hk" text-anchor="end" transform="translate(355.1 449.4) scale(0.870 1)">80</text>
<text class="hk" text-anchor="end" transform="translate(355.1 417.7) scale(0.870 1)">90</text>
</g>
<g class="tk" text-anchor="middle">
<text class="hk" text-anchor="middle" transform="translate(358.4 711.4) scale(0.870 1)">−40</text>
<text class="hk" text-anchor="middle" transform="translate(396.6 711.4) scale(0.870 1)">−20</text>
<text class="hk" text-anchor="middle" transform="translate(434.9 711.4) scale(0.870 1)">0</text>
<text class="hk" text-anchor="middle" transform="translate(473.1 711.4) scale(0.870 1)">20</text>
<text class="hk" text-anchor="middle" transform="translate(511.4 711.4) scale(0.870 1)">40</text>
</g>
<text class="hl" text-anchor="middle" transform="translate(435.9 725.6) scale(0.955 1)">Measured-predicted (dB)</text>
<text class="tt" text-anchor="middle" transform="translate(435.5 403.0) scale(0.945 1)">Optimized Microcell</text>
</g>
</svg>
<div class="rule" style="left:90px;top:736.9px;width:472px;background:#9a9a9a;"></div>
<div class="cap" id="cap2" style="top:737.0px;"><b>F<span class="sc">IGURE</span></b> <b class="n">4.4.3.2</b> <span class="t">Histograms of measurement errors for default and optimized microcell models.</span></div>
</body>
</html>
